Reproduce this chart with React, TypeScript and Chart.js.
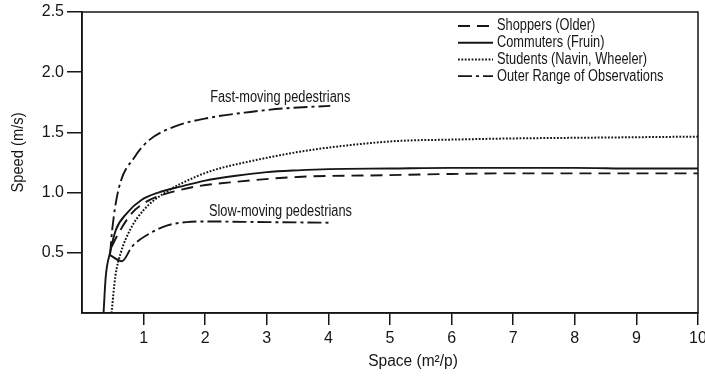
import React, { useEffect, useRef } from "react";
import { Chart, registerables } from "chart.js";

Chart.register(...registerables);

const FONT = "'Liberation Sans', Arial, sans-serif";
const INK = "#161616";

// Tick values
const xTickValues = [1, 2, 3, 4, 5, 6, 7, 8, 9, 10];
const yTickValues = [0.5, 1.0, 1.5, 2.0, 2.5];

// Series: Shoppers (Older)
const shoppersX = [0.48, 0.59, 0.81, 1.0, 1.24, 1.5, 1.84, 2.5, 3.5, 5, 6, 7, 8, 9, 10];
const shoppersY = [0.55, 0.66, 0.83, 0.91, 0.97, 1.01, 1.05, 1.09, 1.13, 1.145, 1.155, 1.16, 1.16, 1.16, 1.16];

// Series: Commuters (Fruin)
const commutersX = [0.35, 0.385, 0.455, 0.55, 0.73, 0.97, 1.24, 1.6, 2.0, 2.5, 3.0, 3.5, 4, 5, 6, 7, 8, 9, 10];
const commutersY = [0, 0.3, 0.5, 0.69, 0.83, 0.94, 1.0, 1.05, 1.1, 1.14, 1.17, 1.185, 1.195, 1.2, 1.205, 1.205, 1.205, 1.2, 1.2];

// Series: Students (Navin, Wheeler)
const studentsX = [0.48, 0.54, 0.63, 0.78, 1.0, 1.35, 1.84, 2.16, 2.73, 3.54, 4.36, 5.17, 6, 7, 8, 9, 10];
const studentsY = [0, 0.3, 0.5, 0.69, 0.855, 1.0, 1.13, 1.19, 1.26, 1.34, 1.395, 1.43, 1.44, 1.45, 1.455, 1.46, 1.465];

// Outer range of observations: fast-moving (upper) boundary
const fastX = [0.455, 0.49, 0.59, 0.86, 1.1, 1.51, 2.05, 2.73, 3.3, 4.03];
const fastY = [0.48, 0.69, 1.02, 1.3, 1.44, 1.55, 1.62, 1.67, 1.7, 1.72];

// Outer range of observations: slow-moving (lower) boundary, first point joins the upper boundary
const slowX = [0.455, 0.65, 0.81, 1.13, 1.4, 1.7, 2.0, 3.0, 4.03];
const slowY = [0.48, 0.43, 0.55, 0.67, 0.73, 0.755, 0.76, 0.755, 0.75];

const legendLabels = ["Shoppers (Older)", "Commuters (Fruin)", "Students (Navin, Wheeler)", "Outer Range of Observations"];
const annotationTexts = ["Fast-moving pedestrians", "Slow-moving pedestrians"];
const annotationAnchorsX = [2.08, 2.06];
const annotationAnchorsY = [1.79, 0.84];

const xTitle = "Space (m\u00B2/p)";
const yTitle = "Speed (m/s)";

const DASH_SHOPPERS = [12, 7];
const DASH_COMMUTERS: number[] = [];
const DASH_STUDENTS = [1.8, 1.6];
const DASH_OUTER = [14, 4, 3, 4];

const pts = (xs: number[], ys: number[]) => xs.map((x, i) => ({ x, y: ys[i] }));

const legendStyles = [
  { dash: DASH_SHOPPERS, width: 1.9 },
  { dash: DASH_COMMUTERS, width: 1.9 },
  { dash: DASH_STUDENTS, width: 2 },
  { dash: DASH_OUTER, width: 1.9 },
];

function narrowText(ctx: any, text: string, x: number, y: number, squeeze: number, align: string) {
  ctx.save();
  ctx.translate(x, y);
  ctx.scale(squeeze, 1);
  ctx.textAlign = align;
  ctx.fillText(text, 0, 0);
  ctx.restore();
}

const decorPlugin = {
  id: "decor",
  afterDraw(chart: any) {
    const { ctx, chartArea, scales } = chart;
    const xs = scales.x;
    const ys = scales.y;
    ctx.save();
    // frame
    ctx.strokeStyle = INK;
    ctx.lineWidth = 1.5;
    ctx.setLineDash([]);
    ctx.strokeRect(chartArea.left, chartArea.top, chartArea.right - chartArea.left, chartArea.bottom - chartArea.top);

    // legend
    ctx.font = `16px ${FONT}`;
    ctx.fillStyle = INK;
    ctx.textBaseline = "middle";
    legendLabels.forEach((label, i) => {
      const y = chartArea.top + 14 + i * 16.7;
      const st = legendStyles[i];
      ctx.beginPath();
      ctx.setLineDash(st.dash);
      ctx.lineWidth = st.width;
      ctx.strokeStyle = INK;
      ctx.moveTo(chartArea.right - 240, y);
      ctx.lineTo(chartArea.right - 205, y);
      ctx.stroke();
      ctx.setLineDash([]);
      narrowText(ctx, label, chartArea.right - 201, y, 0.8, "left");
    });

    // annotations
    annotationTexts.forEach((t, i) => {
      narrowText(ctx, t, xs.getPixelForValue(annotationAnchorsX[i]), ys.getPixelForValue(annotationAnchorsY[i]), 0.8, "left");
    });

    // axis titles
    narrowText(ctx, xTitle, (chartArea.left + chartArea.right) / 2 + 23, chartArea.bottom + 49, 0.97, "center");
    ctx.translate(19, (chartArea.top + chartArea.bottom) / 2 - 10);
    ctx.rotate(-Math.PI / 2);
    narrowText(ctx, yTitle, 0, 0, 0.92, "center");
    ctx.restore();
  },
};

export default function App() {
  const ref = useRef<HTMLCanvasElement | null>(null);

  useEffect(() => {
    document.body.style.margin = "0";
    const canvas = ref.current!;
    const common = {
      borderColor: INK,
      backgroundColor: INK,
      pointRadius: 0,
      fill: false,
      cubicInterpolationMode: "monotone" as const,
    };
    const chart = new Chart(canvas, {
      type: "line",
      data: {
        datasets: [
          { ...common, label: legendLabels[0], data: pts(shoppersX, shoppersY), borderDash: DASH_SHOPPERS, borderWidth: 1.9 },
          { ...common, label: legendLabels[1], data: pts(commutersX, commutersY), borderDash: DASH_COMMUTERS, borderWidth: 1.9 },
          { ...common, label: legendLabels[2], data: pts(studentsX, studentsY), borderDash: DASH_STUDENTS, borderWidth: 2 },
          { ...common, label: legendLabels[3], data: pts(fastX, fastY), borderDash: DASH_OUTER, borderWidth: 1.9 },
          {
            ...common,
            label: legendLabels[3] + " (lower)",
            data: pts(slowX, slowY),
            borderDash: DASH_OUTER,
            borderWidth: 1.9,
            segment: {
              borderDash: (c: any) => (c.p0DataIndex === 0 ? [] : DASH_OUTER),
            },
          },
        ],
      },
      options: {
        responsive: false,
        animation: false,
        devicePixelRatio: 1,
        layout: { padding: { top: 12, right: 7, left: 0, bottom: 0 } },
        plugins: { legend: { display: false }, tooltip: { enabled: false } },
        scales: {
          x: {
            type: "linear",
            min: 0,
            max: 10,
            afterBuildTicks: (s: any) => {
              s.ticks = xTickValues.map((v) => ({ value: v }));
            },
            afterFit: (s: any) => {
              s.height = 63;
              s.paddingLeft = 0;
              s.paddingRight = 0;
            },
            grid: { drawOnChartArea: false, tickLength: 12, color: INK, lineWidth: 1.5 },
            border: { color: INK, width: 1.5 },
            ticks: { color: INK, padding: 4, font: { family: FONT, size: 16 }, maxRotation: 0, autoSkip: false },
          },
          y: {
            type: "linear",
            min: 0,
            max: 2.5,
            afterBuildTicks: (s: any) => {
              s.ticks = yTickValues.map((v) => ({ value: v }));
            },
            afterFit: (s: any) => {
              s.width = 82;
              s.paddingTop = 0;
              s.paddingBottom = 0;
            },
            grid: { drawOnChartArea: false, tickLength: 15, color: INK, lineWidth: 1.5 },
            border: { color: INK, width: 1.5 },
            ticks: {
              color: INK,
              padding: 3,
              font: { family: FONT, size: 16 },
              callback: (v: any) => Number(v).toFixed(1),
            },
          },
        },
      },
      plugins: [decorPlugin],
    });
    return () => chart.destroy();
  }, []);

  return (
    <div style={{ position: "absolute", left: 0, top: 0, width: 705, height: 376, background: "#fff" }}>
      <canvas ref={ref} width={705} height={376} style={{ display: "block" }} />
    </div>
  );
}
